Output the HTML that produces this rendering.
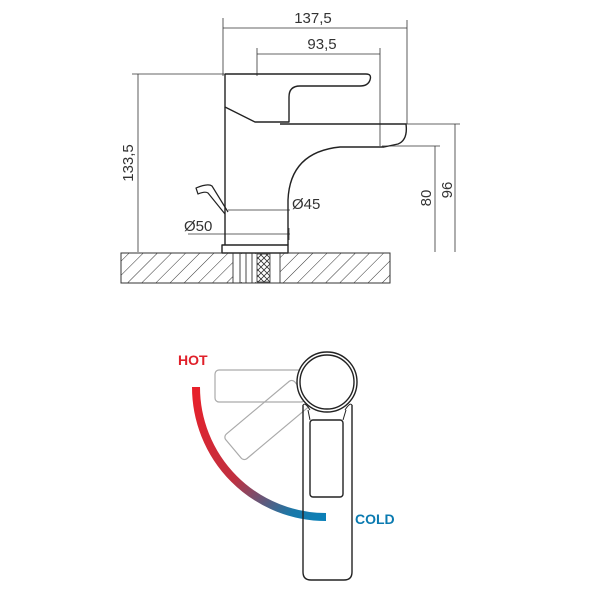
<!DOCTYPE html>
<html><head><style>html,body{margin:0;padding:0;background:#fff}svg{display:block}</style></head>
<body>
<svg width="600" height="600" viewBox="0 0 600 600" xmlns="http://www.w3.org/2000/svg">
<defs>
<pattern id="h" width="10" height="10" patternUnits="userSpaceOnUse" patternTransform="rotate(45)">
<line x1="0" y1="0" x2="0" y2="10" stroke="#333" stroke-width="1"/>
</pattern>
<pattern id="x" width="6" height="6" patternUnits="userSpaceOnUse">
<path d="M0 0L6 6M6 0L0 6" stroke="#333" stroke-width="0.8"/>
</pattern>
<linearGradient id="g" x1="0" y1="0" x2="1" y2="1">
<stop offset="0" stop-color="#e8202a"/><stop offset="0.5" stop-color="#c03040"/><stop offset="0.85" stop-color="#1a78a8"/><stop offset="1" stop-color="#0a80b8"/>
</linearGradient>
</defs>
<g font-family="Liberation Sans, sans-serif" fill="none" stroke="#333" stroke-width="0.8">
<line x1="223" y1="18" x2="223" y2="76"/><line x1="407" y1="20" x2="407" y2="124"/>
<line x1="223" y1="28" x2="407" y2="28"/>
<line x1="257" y1="48" x2="257" y2="76"/><line x1="380" y1="48" x2="380" y2="146"/>
<line x1="257" y1="54" x2="380" y2="54"/>
<line x1="132" y1="74" x2="225" y2="74"/><line x1="138" y1="74" x2="138" y2="252"/>
<line x1="405" y1="124" x2="460" y2="124"/><line x1="455" y1="124" x2="455" y2="252"/>
<line x1="382" y1="146" x2="440" y2="146"/><line x1="435" y1="146" x2="435" y2="252"/>
<line x1="228" y1="210" x2="290" y2="210"/><line x1="188" y1="234" x2="290" y2="234"/>
<line x1="289" y1="228" x2="289" y2="240"/>
</g>
<g font-family="Liberation Sans, sans-serif" font-size="15" fill="#333">
<text x="313" y="23" text-anchor="middle">137,5</text>
<text x="322" y="49" text-anchor="middle">93,5</text>
<text transform="translate(133,163) rotate(-90)" text-anchor="middle">133,5</text>
<text transform="translate(431,198) rotate(-90)" text-anchor="middle">80</text>
<text transform="translate(452,190) rotate(-90)" text-anchor="middle">96</text>
<text x="292" y="209">Ø45</text>
<text x="184" y="231">Ø50</text>
</g>
<g fill="none" stroke="#222" stroke-width="1.4" stroke-linejoin="round">
<path d="M225 74 H366 Q372 74 370 80 Q368 86 360 86 H300 Q289 86 289 97 V122 H255 L225 107 V74"/>
<path d="M225 107 V245"/>
<path d="M280 124 H406 Q408 140 398 144 L384 147 H340 Q290 152 288 200 V245"/>
<rect x="222" y="245" width="66" height="8"/>
<path d="M228 212 L212 186 Q208 183 196 188 L198 194 Q205 191 208 193 L225 214" stroke-width="1.2"/>
</g>
<rect x="121" y="253" width="269" height="30" fill="url(#h)" stroke="#333" stroke-width="1"/>
<rect x="233" y="254" width="47" height="28" fill="#fff"/>
<rect x="257" y="254" width="13" height="28" fill="url(#x)" stroke="#333" stroke-width="0.8"/>
<g stroke="#333" stroke-width="0.9"><line x1="233" y1="253" x2="233" y2="283"/><line x1="240" y1="253" x2="240" y2="283"/><line x1="246" y1="253" x2="246" y2="283"/><line x1="252" y1="253" x2="252" y2="283"/><line x1="280" y1="253" x2="280" y2="283"/></g>
<path d="M196 387 A130 130 0 0 0 326 517" fill="none" stroke="url(#g)" stroke-width="8"/>
<g fill="none" stroke="#aaa" stroke-width="1.2">
<rect x="215" y="370" width="90" height="32" rx="4"/>
<rect x="-45" y="-16" width="90" height="32" rx="4" transform="translate(268,420) rotate(-40)"/>
</g>
<g fill="none" stroke="#222" stroke-width="1.4">
<path d="M303 405 V572 Q303 580 311 580 H344 Q352 580 352 572 V405"/>
<path d="M303 405 Q305 402 310 410 M352 405 Q350 402 345 410" stroke-width="1"/>
<rect x="310" y="420" width="33" height="77" rx="3"/>
<path d="M310 420 L308 410 M343 420 L346 410" stroke-width="1"/>
<circle cx="327" cy="382" r="30" fill="#fff"/>
<circle cx="327" cy="382" r="27"/>
</g>
<g font-family="Liberation Sans, sans-serif" font-weight="bold" font-size="14">
<text x="178" y="365" fill="#e0202a">HOT</text>
<text x="355" y="524" fill="#0a7ab0">COLD</text>
</g>
</svg>
</body></html>
